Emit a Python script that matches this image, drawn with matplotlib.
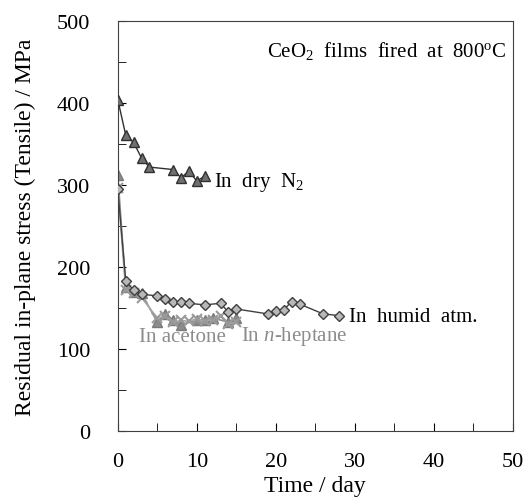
import matplotlib.pyplot as plt

plt.rcParams["font.family"] = ["Liberation Serif", "DejaVu Serif"]
plt.rcParams["mathtext.fontset"] = "custom"
plt.rcParams["mathtext.rm"] = "Liberation Serif"
plt.rcParams["mathtext.it"] = "Liberation Serif:italic"

# dry N2
n2_days = [0, 1, 2, 3, 4, 7, 8, 9, 10, 11]
n2_stress = [404, 361, 352, 333, 322, 319, 309, 317, 305, 311]

# humid atmosphere
humid_days = [0, 1, 2, 3, 5, 6, 7, 8, 9, 11, 13, 14, 15, 19, 20, 21, 22, 23, 26, 28]
humid_stress = [295, 183, 172, 167, 165, 161, 158, 157, 156, 154, 156, 145, 149,
                143, 147, 148, 158, 155, 143, 141]

# acetone
acetone_days = [0, 1, 2, 3, 5, 6, 7, 8, 10, 11, 12, 14, 15]
acetone_stress = [312, 176, 170, 168, 133, 143, 136, 130, 135, 136, 138, 133, 138]

# n-heptane
heptane_days = [0, 1, 2, 3, 5, 6, 7, 8, 9, 10, 11, 12, 13, 14, 15]
heptane_stress = [296, 172, 168, 163, 138, 140, 133, 135, 134, 137, 134, 136, 140, 131, 133]

fig = plt.figure(figsize=(5.26, 5.02), dpi=100)
ax = fig.add_axes([0.224, 0.139, 0.751, 0.817])

ax.plot(acetone_days, acetone_stress, color="#8c8c8c", lw=1.2, marker="^",
        ms=6.5, mfc="#8c8c8c", mec="#7a7a7a", zorder=2)
ax.plot(heptane_days, heptane_stress, color="#a8a8a8", lw=1.2, marker="x",
        ms=6.5, mew=1.5, mec="#9a9a9a", zorder=2)
ax.plot(humid_days, humid_stress, color="#404040", lw=1.0, marker="D",
        ms=5.5, mfc="#b8b8b8", mec="#404040", zorder=3)
ax.plot(n2_days, n2_stress, color="#303030", lw=1.0, marker="^",
        ms=7, mfc="#707070", mec="#303030", zorder=3)

ax.set_xlim(0, 50)
ax.set_ylim(0, 500)
ax.set_xticks(range(0, 51, 10))
ax.set_xticks(range(0, 51, 5), minor=True)
ax.set_yticks(range(0, 501, 100))
ax.set_yticks(range(0, 501, 50), minor=True)
ax.tick_params(which="both", direction="in", labelsize=16)
ax.tick_params(axis="x", pad=15)
ax.tick_params(axis="y", pad=20)
ax.tick_params(which="both", length=6)
for s in ax.spines.values():
    s.set_color("#404040")

ax.set_xlabel("Time / day", fontsize=17, labelpad=3)
ax.set_ylabel("Residual in-plane stress (Tensile) / MPa", fontsize=17, labelpad=15)

ax.text(49.2, 465, r"CeO$_2$  films  fired  at  800$^{\rm o}$C", ha="right",
        va="center", fontsize=15)
ax.text(12.2, 305, r"In  dry  N$_2$", ha="left", va="center", fontsize=15)
ax.text(29.3, 140, "In  humid  atm.", ha="left", va="center", fontsize=15)
ax.text(2.7, 116, "In acetone", ha="left", va="center", fontsize=15,
        color="#8c8c8c")
ax.text(15.6, 117, r"In $n$-heptane", ha="left", va="center", fontsize=15,
        color="#8c8c8c")

fig.savefig("out.png", dpi=100)
